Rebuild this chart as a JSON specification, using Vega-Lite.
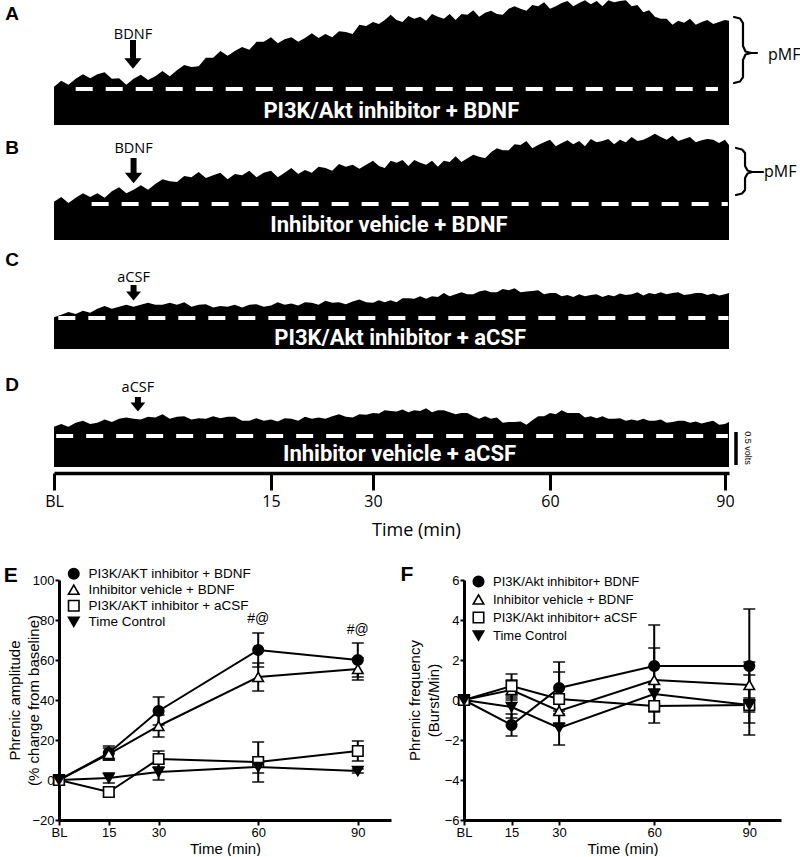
{
"$schema":"https://vega.github.io/schema/vega-lite/v6.json",
"padding":{"left":3,"top":0,"right":0,"bottom":0},
"background":"white",
"bounds":"flush",
"spacing":0,
"config":{"view":{"stroke":null},"axis":{"grid":false}},
"datasets":{
"trace":[
{"t":0,"A":0.58,"B":0.58,"C":0.48,"D":0.61},{"t":0.5,"A":0.67,"B":0.65,"C":0.52,"D":0.65},{"t":1,"A":0.61,"B":0.56,"C":0.56,"D":0.61},{"t":1.5,"A":0.70,"B":0.64,"C":0.53,"D":0.67},{"t":2,"A":0.77,"B":0.71,"C":0.58,"D":0.70},{"t":2.5,"A":0.71,"B":0.65,"C":0.55,"D":0.65},{"t":3,"A":0.77,"B":0.71,"C":0.61,"D":0.67},{"t":3.5,"A":0.80,"B":0.64,"C":0.65,"D":0.72},{"t":4,"A":0.70,"B":0.74,"C":0.61,"D":0.68},{"t":4.5,"A":0.71,"B":0.80,"C":0.64,"D":0.73},
{"t":5,"A":0.61,"B":0.71,"C":0.67,"D":0.75},{"t":5.5,"A":0.70,"B":0.76,"C":0.64,"D":0.73},{"t":6,"A":0.76,"B":0.83,"C":0.67,"D":0.72},{"t":6.5,"A":0.68,"B":0.76,"C":0.70,"D":0.76},{"t":7,"A":0.74,"B":0.85,"C":0.67,"D":0.75},{"t":7.5,"A":0.82,"B":0.92,"C":0.67,"D":0.80},{"t":8,"A":0.74,"B":0.89,"C":0.70,"D":0.73},{"t":8.5,"A":0.83,"B":0.88,"C":0.67,"D":0.76},{"t":9,"A":0.91,"B":0.97,"C":0.71,"D":0.77},{"t":9.5,"A":0.88,"B":0.95,"C":0.64,"D":0.72},
{"t":10,"A":0.89,"B":1.03,"C":0.67,"D":0.74},{"t":10.5,"A":1.02,"B":0.94,"C":0.68,"D":0.73},{"t":11,"A":1.02,"B":0.98,"C":0.63,"D":0.77},{"t":11.5,"A":1.12,"B":1.02,"C":0.65,"D":0.74},{"t":12,"A":1.05,"B":0.92,"C":0.64,"D":0.76},{"t":12.5,"A":1.12,"B":1.00,"C":0.67,"D":0.76},{"t":13,"A":1.18,"B":0.98,"C":0.63,"D":0.70},{"t":13.5,"A":1.14,"B":1.05,"C":0.67,"D":0.70},{"t":14,"A":1.26,"B":0.95,"C":0.68,"D":0.74},{"t":14.5,"A":1.26,"B":1.02,"C":0.64,"D":0.70},
{"t":15,"A":1.33,"B":1.05,"C":0.66,"D":0.72},{"t":16,"A":1.24,"B":0.95,"C":0.71,"D":0.69},{"t":17,"A":1.30,"B":1.02,"C":0.67,"D":0.74},{"t":18,"A":1.33,"B":1.09,"C":0.69,"D":0.73},{"t":19,"A":1.26,"B":1.00,"C":0.66,"D":0.70},{"t":20,"A":1.32,"B":1.06,"C":0.71,"D":0.76},{"t":21,"A":1.39,"B":1.02,"C":0.70,"D":0.73},{"t":22,"A":1.32,"B":1.11,"C":0.67,"D":0.75},{"t":23,"A":1.38,"B":1.09,"C":0.73,"D":0.73},{"t":24,"A":1.33,"B":1.05,"C":0.70,"D":0.77},
{"t":25,"A":1.42,"B":1.15,"C":0.71,"D":0.80},{"t":26,"A":1.41,"B":1.11,"C":0.68,"D":0.76},{"t":27,"A":1.38,"B":1.14,"C":0.72,"D":0.75},{"t":28,"A":1.52,"B":1.08,"C":0.75,"D":0.80},{"t":29,"A":1.50,"B":1.14,"C":0.71,"D":0.79},{"t":30,"A":1.56,"B":1.20,"C":0.70,"D":0.82},{"t":31,"A":1.53,"B":1.12,"C":0.74,"D":0.81},{"t":32,"A":1.59,"B":1.09,"C":0.71,"D":0.86},{"t":33,"A":1.67,"B":1.20,"C":0.74,"D":0.85},{"t":34,"A":1.59,"B":1.17,"C":0.71,"D":0.84},
{"t":35,"A":1.56,"B":1.21,"C":0.77,"D":0.87},{"t":36,"A":1.65,"B":1.12,"C":0.77,"D":0.83},{"t":37,"A":1.61,"B":1.21,"C":0.76,"D":0.86},{"t":38,"A":1.64,"B":1.17,"C":0.80,"D":0.85},{"t":39,"A":1.58,"B":1.14,"C":0.76,"D":0.89},{"t":40,"A":1.68,"B":1.20,"C":0.80,"D":0.83},{"t":41,"A":1.64,"B":1.11,"C":0.79,"D":0.86},{"t":42,"A":1.61,"B":1.20,"C":0.85,"D":0.86},{"t":43,"A":1.68,"B":1.18,"C":0.80,"D":0.83},{"t":44,"A":1.59,"B":1.27,"C":0.83,"D":0.80},
{"t":45,"A":1.68,"B":1.18,"C":0.86,"D":0.82},{"t":46,"A":1.67,"B":1.24,"C":0.83,"D":0.82},{"t":47,"A":1.74,"B":1.29,"C":0.83,"D":0.77},{"t":48,"A":1.64,"B":1.26,"C":0.87,"D":0.73},{"t":49,"A":1.70,"B":1.24,"C":0.89,"D":0.77},{"t":50,"A":1.73,"B":1.33,"C":0.86,"D":0.73},{"t":51,"A":1.68,"B":1.39,"C":0.86,"D":0.75},{"t":52,"A":1.67,"B":1.36,"C":0.91,"D":0.67},{"t":53,"A":1.76,"B":1.36,"C":0.89,"D":0.68},{"t":54,"A":1.80,"B":1.45,"C":0.92,"D":0.68},
{"t":55,"A":1.76,"B":1.44,"C":0.86,"D":0.69},{"t":56,"A":1.73,"B":1.50,"C":0.87,"D":0.64},{"t":57,"A":1.82,"B":1.39,"C":0.88,"D":0.71},{"t":58,"A":1.80,"B":1.44,"C":0.89,"D":0.77},{"t":59,"A":1.86,"B":1.48,"C":0.83,"D":0.77},{"t":60,"A":1.76,"B":1.52,"C":0.85,"D":0.82},{"t":61,"A":1.80,"B":1.42,"C":0.85,"D":0.80},{"t":62,"A":1.85,"B":1.47,"C":0.80,"D":0.86},{"t":63,"A":1.88,"B":1.51,"C":0.82,"D":0.82},{"t":64,"A":1.80,"B":1.45,"C":0.79,"D":0.82},
{"t":65,"A":1.85,"B":1.50,"C":0.83,"D":0.82},{"t":66,"A":1.89,"B":1.42,"C":0.80,"D":0.75},{"t":67,"A":1.83,"B":1.53,"C":0.82,"D":0.77},{"t":68,"A":1.88,"B":1.48,"C":0.83,"D":0.74},{"t":69,"A":1.80,"B":1.50,"C":0.79,"D":0.77},{"t":70,"A":1.89,"B":1.53,"C":0.82,"D":0.73},{"t":71,"A":1.86,"B":1.45,"C":0.80,"D":0.73},{"t":72,"A":1.88,"B":1.52,"C":0.84,"D":0.74},{"t":73,"A":1.89,"B":1.48,"C":0.82,"D":0.70},{"t":74,"A":1.80,"B":1.56,"C":0.83,"D":0.72},
{"t":75,"A":1.82,"B":1.50,"C":0.86,"D":0.70},{"t":76,"A":1.71,"B":1.52,"C":0.81,"D":0.73},{"t":77,"A":1.74,"B":1.56,"C":0.85,"D":0.70},{"t":78,"A":1.64,"B":1.61,"C":0.83,"D":0.70},{"t":79,"A":1.61,"B":1.56,"C":0.86,"D":0.72},{"t":80,"A":1.61,"B":1.52,"C":0.83,"D":0.67},{"t":81,"A":1.52,"B":1.58,"C":0.85,"D":0.68},{"t":82,"A":1.58,"B":1.50,"C":0.86,"D":0.70},{"t":83,"A":1.55,"B":1.53,"C":0.82,"D":0.70},{"t":84,"A":1.61,"B":1.56,"C":0.83,"D":0.67},
{"t":85,"A":1.52,"B":1.48,"C":0.85,"D":0.69},{"t":86,"A":1.56,"B":1.51,"C":0.85,"D":0.66},{"t":87,"A":1.59,"B":1.53,"C":0.82,"D":0.68},{"t":88,"A":1.53,"B":1.52,"C":0.84,"D":0.70},{"t":89,"A":1.56,"B":1.47,"C":0.81,"D":0.64},{"t":90,"A":1.59,"B":1.52,"C":0.83,"D":0.65},{"t":90.7,"A":1.58,"B":1.44,"C":0.85,"D":0.68}
],
"pan":[
{"p":"A","base":0.545,"d0":1.5,"d1":88.8,"label":"PI3K/Akt inhibitor + BDNF","lt":33.1,"lv":0.215,"drug":"BDNF","at":5.46,"atop":1.288,"ahead":0.932,"dv":1.303,"letter":"A","xl":-2.9,"Lv":1.689,"pt":97.4,"pv":1.061,"plab":"pMF"},
{"p":"B","base":0.545,"d0":2.6,"d1":90.5,"label":"Inhibitor vehicle + BDNF","lt":32.7,"lv":0.23,"drug":"BDNF","at":5.5,"atop":1.242,"ahead":0.939,"dv":1.318,"letter":"B","xl":-2.9,"Lv":1.394,"pt":96.7,"pv":1.03,"plab":"pMF"},
{"p":"C","base":0.47,"d0":0.3,"d1":90.6,"label":"PI3K/Akt inhibitor + aCSF","lt":34.6,"lv":0.17,"drug":"aCSF","at":5.5,"atop":0.97,"ahead":0.803,"dv":1.015,"letter":"C","xl":-2.9,"Lv":1.348},
{"p":"D","base":0.47,"d0":0.15,"d1":90.5,"label":"Inhibitor vehicle + aCSF","lt":34.5,"lv":0.19,"drug":"aCSF","at":5.8,"atop":1.061,"ahead":0.909,"dv":1.136,"letter":"D","xl":-2.9,"Lv":1.242,"sbx":91.9,"sb0":0.03,"sb1":0.53,"sbt":94.0,"sbv":0.288,"sblab":"0.5 volts"}
],
"brace":[
{"p":"A","o":1,"bx":91.56,"by":1.636},{"p":"A","o":2,"bx":92.59,"by":1.614},{"p":"A","o":3,"bx":93.1,"by":1.545},{"p":"A","o":4,"bx":93.1,"by":1.197},{"p":"A","o":5,"bx":93.53,"by":1.114},{"p":"A","o":6,"bx":94.48,"by":1.091},{"p":"A","o":7,"bx":95.51,"by":1.091},{"p":"A","o":8,"bx":94.48,"by":1.091},{"p":"A","o":9,"bx":93.53,"by":1.068},{"p":"A","o":10,"bx":93.1,"by":0.985},{"p":"A","o":11,"bx":93.1,"by":0.727},{"p":"A","o":12,"bx":92.59,"by":0.659},{"p":"A","o":13,"bx":91.56,"by":0.636},
{"p":"B","o":1,"bx":91.9,"by":1.394},{"p":"B","o":2,"bx":92.93,"by":1.371},{"p":"B","o":3,"bx":93.45,"by":1.318},{"p":"B","o":4,"bx":93.45,"by":1.121},{"p":"B","o":5,"bx":93.88,"by":1.053},{"p":"B","o":6,"bx":94.65,"by":1.03},{"p":"B","o":7,"bx":96.54,"by":1.03},{"p":"B","o":8,"bx":94.65,"by":1.03},{"p":"B","o":9,"bx":93.88,"by":1.008},{"p":"B","o":10,"bx":93.45,"by":0.939},{"p":"B","o":11,"bx":93.45,"by":0.758},{"p":"B","o":12,"bx":92.93,"by":0.705},{"p":"B","o":13,"bx":91.9,"by":0.682}
],
"amp":[
{"s":"PI3K/AKT inhibitor + BDNF","time":0,"m":0,"lo":0,"hi":0},{"s":"PI3K/AKT inhibitor + BDNF","time":15,"m":13.5,"lo":10,"hi":17},{"s":"PI3K/AKT inhibitor + BDNF","time":30,"m":34.5,"lo":27.5,"hi":41.5},{"s":"PI3K/AKT inhibitor + BDNF","time":60,"m":65,"lo":56.5,"hi":73.5},{"s":"PI3K/AKT inhibitor + BDNF","time":90,"m":60,"lo":51.5,"hi":68.5},
{"s":"Inhibitor vehicle + BDNF","time":0,"m":0,"lo":0,"hi":0},{"s":"Inhibitor vehicle + BDNF","time":15,"m":13,"lo":10,"hi":16},{"s":"Inhibitor vehicle + BDNF","time":30,"m":27,"lo":21.5,"hi":32.5},{"s":"Inhibitor vehicle + BDNF","time":60,"m":51.5,"lo":44.5,"hi":58.5},{"s":"Inhibitor vehicle + BDNF","time":90,"m":55.5,"lo":50,"hi":61},
{"s":"PI3K/AKT inhibitor + aCSF","time":0,"m":0,"lo":0,"hi":0},{"s":"PI3K/AKT inhibitor + aCSF","time":15,"m":-6,"lo":-8,"hi":-4},{"s":"PI3K/AKT inhibitor + aCSF","time":30,"m":10.5,"lo":6.5,"hi":14.5},{"s":"PI3K/AKT inhibitor + aCSF","time":60,"m":9,"lo":-1,"hi":19},{"s":"PI3K/AKT inhibitor + aCSF","time":90,"m":14.5,"lo":9.5,"hi":19.5},
{"s":"Time Control","time":0,"m":0,"lo":0,"hi":0},{"s":"Time Control","time":15,"m":1,"lo":-1.5,"hi":3.5},{"s":"Time Control","time":30,"m":4,"lo":0,"hi":8},{"s":"Time Control","time":60,"m":6.5,"lo":3.5,"hi":9.5},{"s":"Time Control","time":90,"m":4.5,"lo":3.5,"hi":5.5}
],
"freq":[
{"s":"PI3K/Akt inhibitor+ BDNF","time":0,"m":0,"lo":0,"hi":0},{"s":"PI3K/Akt inhibitor+ BDNF","time":15,"m":-1.25,"lo":-1.8,"hi":-0.7},{"s":"PI3K/Akt inhibitor+ BDNF","time":30,"m":0.6,"lo":-0.7,"hi":1.9},{"s":"PI3K/Akt inhibitor+ BDNF","time":60,"m":1.7,"lo":-0.35,"hi":3.75},{"s":"PI3K/Akt inhibitor+ BDNF","time":90,"m":1.7,"lo":-1.15,"hi":4.55},
{"s":"Inhibitor vehicle + BDNF","time":0,"m":0,"lo":0,"hi":0},{"s":"Inhibitor vehicle + BDNF","time":15,"m":0.5,"lo":0,"hi":1},{"s":"Inhibitor vehicle + BDNF","time":30,"m":-0.55,"lo":-1.15,"hi":0.05},{"s":"Inhibitor vehicle + BDNF","time":60,"m":1.0,"lo":-0.6,"hi":2.6},{"s":"Inhibitor vehicle + BDNF","time":90,"m":0.75,"lo":-0.4,"hi":1.9},
{"s":"PI3K/Akt inhibitor+ aCSF","time":0,"m":0,"lo":0,"hi":0},{"s":"PI3K/Akt inhibitor+ aCSF","time":15,"m":0.7,"lo":0.1,"hi":1.3},{"s":"PI3K/Akt inhibitor+ aCSF","time":30,"m":0.05,"lo":-1.3,"hi":1.4},{"s":"PI3K/Akt inhibitor+ aCSF","time":60,"m":-0.3,"lo":-1.15,"hi":0.55},{"s":"PI3K/Akt inhibitor+ aCSF","time":90,"m":-0.25,"lo":-1.75,"hi":1.25},
{"s":"Time Control","time":0,"m":0,"lo":0,"hi":0},{"s":"Time Control","time":15,"m":-0.35,"lo":-0.9,"hi":0.2},{"s":"Time Control","time":30,"m":-1.4,"lo":-2.25,"hi":-0.55},{"s":"Time Control","time":60,"m":0.3,"lo":-0.2,"hi":0.8},{"s":"Time Control","time":90,"m":-0.25,"lo":-0.6,"hi":0.1}
]
},
"vconcat":[
{"width":670,"height":125,"layer":[
{"data":{"name":"trace"},"mark":{"type":"area","color":"black"},"encoding":{"x":{"field":"t","type":"quantitative","scale":{"domain":[0,15,30,60,90.7],"range":[-5,212,314,491,670],"nice":false,"zero":false},"axis":null},"y":{"field":"A","type":"quantitative","scale":{"domain":[0,1.894],"nice":false,"zero":false},"axis":null},"y2":{"datum":0}}},
{"data":{"name":"pan"},"transform":[{"filter":"datum.p === 'A'"}],"mark":{"type":"rule","color":"white","strokeWidth":4,"strokeDash":[17,13]},"encoding":{"x":{"field":"d0","type":"quantitative","scale":{"domain":[0,15,30,60,90.7],"range":[-5,212,314,491,670],"nice":false,"zero":false},"axis":null},"x2":{"field":"d1"},"y":{"field":"base","type":"quantitative","scale":{"domain":[0,1.894],"nice":false,"zero":false},"axis":null}}},
{"data":{"name":"pan"},"transform":[{"filter":"datum.p === 'A'"}],"mark":{"type":"text","color":"white","font":"Roboto","fontWeight":"bold","fontSize":22,"baseline":"middle"},"encoding":{"x":{"field":"lt","type":"quantitative","scale":{"domain":[0,15,30,60,90.7],"range":[-5,212,314,491,670],"nice":false,"zero":false},"axis":null},"y":{"field":"lv","type":"quantitative","scale":{"domain":[0,1.894],"nice":false,"zero":false},"axis":null},"text":{"field":"label"}}},
{"data":{"name":"pan"},"transform":[{"filter":"datum.p === 'A'"}],"mark":{"type":"rule","color":"black","strokeWidth":6},"encoding":{"x":{"field":"at","type":"quantitative","scale":{"domain":[0,15,30,60,90.7],"range":[-5,212,314,491,670],"nice":false,"zero":false},"axis":null},"y":{"field":"atop","type":"quantitative","scale":{"domain":[0,1.894],"nice":false,"zero":false},"axis":null},"y2":{"field":"ahead"}}},
{"data":{"name":"pan"},"transform":[{"filter":"datum.p === 'A'"}],"mark":{"type":"point","shape":"M-1,-0.6L1,-0.6L0,0.6Z","size":300,"filled":true,"color":"black","opacity":1},"encoding":{"x":{"field":"at","type":"quantitative","scale":{"domain":[0,15,30,60,90.7],"range":[-5,212,314,491,670],"nice":false,"zero":false},"axis":null},"y":{"field":"ahead","type":"quantitative","scale":{"domain":[0,1.894],"nice":false,"zero":false},"axis":null}}},
{"data":{"name":"pan"},"transform":[{"filter":"datum.p === 'A'"}],"mark":{"type":"text","color":"black","font":"Open Sans","fontSize":14.5,"baseline":"alphabetic"},"encoding":{"x":{"field":"at","type":"quantitative","scale":{"domain":[0,15,30,60,90.7],"range":[-5,212,314,491,670],"nice":false,"zero":false},"axis":null},"y":{"field":"dv","type":"quantitative","scale":{"domain":[0,1.894],"nice":false,"zero":false},"axis":null},"text":{"field":"drug"}}},
{"data":{"name":"pan"},"transform":[{"filter":"datum.p === 'A'"}],"mark":{"type":"text","color":"black","font":"Liberation Sans","fontWeight":"bold","fontSize":19,"baseline":"middle"},"encoding":{"x":{"field":"xl","type":"quantitative","scale":{"domain":[0,15,30,60,90.7],"range":[-5,212,314,491,670],"nice":false,"zero":false},"axis":null},"y":{"field":"Lv","type":"quantitative","scale":{"domain":[0,1.894],"nice":false,"zero":false},"axis":null},"text":{"field":"letter"}}},
{"data":{"name":"brace"},"transform":[{"filter":"datum.p === 'A'"}],"mark":{"type":"line","color":"black","strokeWidth":2.2,"strokeJoin":"round","strokeCap":"round"},"encoding":{"x":{"field":"bx","type":"quantitative","scale":{"domain":[0,15,30,60,90.7],"range":[-5,212,314,491,670],"nice":false,"zero":false},"axis":null},"y":{"field":"by","type":"quantitative","scale":{"domain":[0,1.894],"nice":false,"zero":false},"axis":null},"order":{"field":"o","type":"quantitative"}}},
{"data":{"name":"pan"},"transform":[{"filter":"datum.p === 'A'"}],"mark":{"type":"text","color":"black","font":"Open Sans","fontSize":16,"baseline":"middle","align":"left"},"encoding":{"x":{"field":"pt","type":"quantitative","scale":{"domain":[0,15,30,60,90.7],"range":[-5,212,314,491,670],"nice":false,"zero":false},"axis":null},"y":{"field":"pv","type":"quantitative","scale":{"domain":[0,1.894],"nice":false,"zero":false},"axis":null},"text":{"field":"plab"}}}
]},
{"width":670,"height":115,"layer":[
{"data":{"name":"trace"},"mark":{"type":"area","color":"black"},"encoding":{"x":{"field":"t","type":"quantitative","scale":{"domain":[0,15,30,60,90.7],"range":[-5,212,314,491,670],"nice":false,"zero":false},"axis":null},"y":{"field":"B","type":"quantitative","scale":{"domain":[0,1.742],"nice":false,"zero":false},"axis":null},"y2":{"datum":0}}},
{"data":{"name":"pan"},"transform":[{"filter":"datum.p === 'B'"}],"mark":{"type":"rule","color":"white","strokeWidth":4,"strokeDash":[17,13]},"encoding":{"x":{"field":"d0","type":"quantitative","scale":{"domain":[0,15,30,60,90.7],"range":[-5,212,314,491,670],"nice":false,"zero":false},"axis":null},"x2":{"field":"d1"},"y":{"field":"base","type":"quantitative","scale":{"domain":[0,1.742],"nice":false,"zero":false},"axis":null}}},
{"data":{"name":"pan"},"transform":[{"filter":"datum.p === 'B'"}],"mark":{"type":"text","color":"white","font":"Roboto","fontWeight":"bold","fontSize":22,"baseline":"middle"},"encoding":{"x":{"field":"lt","type":"quantitative","scale":{"domain":[0,15,30,60,90.7],"range":[-5,212,314,491,670],"nice":false,"zero":false},"axis":null},"y":{"field":"lv","type":"quantitative","scale":{"domain":[0,1.742],"nice":false,"zero":false},"axis":null},"text":{"field":"label"}}},
{"data":{"name":"pan"},"transform":[{"filter":"datum.p === 'B'"}],"mark":{"type":"rule","color":"black","strokeWidth":6},"encoding":{"x":{"field":"at","type":"quantitative","scale":{"domain":[0,15,30,60,90.7],"range":[-5,212,314,491,670],"nice":false,"zero":false},"axis":null},"y":{"field":"atop","type":"quantitative","scale":{"domain":[0,1.742],"nice":false,"zero":false},"axis":null},"y2":{"field":"ahead"}}},
{"data":{"name":"pan"},"transform":[{"filter":"datum.p === 'B'"}],"mark":{"type":"point","shape":"M-1,-0.6L1,-0.6L0,0.6Z","size":300,"filled":true,"color":"black","opacity":1},"encoding":{"x":{"field":"at","type":"quantitative","scale":{"domain":[0,15,30,60,90.7],"range":[-5,212,314,491,670],"nice":false,"zero":false},"axis":null},"y":{"field":"ahead","type":"quantitative","scale":{"domain":[0,1.742],"nice":false,"zero":false},"axis":null}}},
{"data":{"name":"pan"},"transform":[{"filter":"datum.p === 'B'"}],"mark":{"type":"text","color":"black","font":"Open Sans","fontSize":14.5,"baseline":"alphabetic"},"encoding":{"x":{"field":"at","type":"quantitative","scale":{"domain":[0,15,30,60,90.7],"range":[-5,212,314,491,670],"nice":false,"zero":false},"axis":null},"y":{"field":"dv","type":"quantitative","scale":{"domain":[0,1.742],"nice":false,"zero":false},"axis":null},"text":{"field":"drug"}}},
{"data":{"name":"pan"},"transform":[{"filter":"datum.p === 'B'"}],"mark":{"type":"text","color":"black","font":"Liberation Sans","fontWeight":"bold","fontSize":19,"baseline":"middle"},"encoding":{"x":{"field":"xl","type":"quantitative","scale":{"domain":[0,15,30,60,90.7],"range":[-5,212,314,491,670],"nice":false,"zero":false},"axis":null},"y":{"field":"Lv","type":"quantitative","scale":{"domain":[0,1.742],"nice":false,"zero":false},"axis":null},"text":{"field":"letter"}}},
{"data":{"name":"brace"},"transform":[{"filter":"datum.p === 'B'"}],"mark":{"type":"line","color":"black","strokeWidth":2.2,"strokeJoin":"round","strokeCap":"round"},"encoding":{"x":{"field":"bx","type":"quantitative","scale":{"domain":[0,15,30,60,90.7],"range":[-5,212,314,491,670],"nice":false,"zero":false},"axis":null},"y":{"field":"by","type":"quantitative","scale":{"domain":[0,1.742],"nice":false,"zero":false},"axis":null},"order":{"field":"o","type":"quantitative"}}},
{"data":{"name":"pan"},"transform":[{"filter":"datum.p === 'B'"}],"mark":{"type":"text","color":"black","font":"Open Sans","fontSize":16,"baseline":"middle","align":"left"},"encoding":{"x":{"field":"pt","type":"quantitative","scale":{"domain":[0,15,30,60,90.7],"range":[-5,212,314,491,670],"nice":false,"zero":false},"axis":null},"y":{"field":"pv","type":"quantitative","scale":{"domain":[0,1.742],"nice":false,"zero":false},"axis":null},"text":{"field":"plab"}}}
]},
{"width":670,"height":109,"layer":[
{"data":{"name":"trace"},"mark":{"type":"area","color":"black"},"encoding":{"x":{"field":"t","type":"quantitative","scale":{"domain":[0,15,30,60,90.7],"range":[-5,212,314,491,670],"nice":false,"zero":false},"axis":null},"y":{"field":"C","type":"quantitative","scale":{"domain":[0,1.652],"nice":false,"zero":false},"axis":null},"y2":{"datum":0}}},
{"data":{"name":"pan"},"transform":[{"filter":"datum.p === 'C'"}],"mark":{"type":"rule","color":"white","strokeWidth":4,"strokeDash":[17,13]},"encoding":{"x":{"field":"d0","type":"quantitative","scale":{"domain":[0,15,30,60,90.7],"range":[-5,212,314,491,670],"nice":false,"zero":false},"axis":null},"x2":{"field":"d1"},"y":{"field":"base","type":"quantitative","scale":{"domain":[0,1.652],"nice":false,"zero":false},"axis":null}}},
{"data":{"name":"pan"},"transform":[{"filter":"datum.p === 'C'"}],"mark":{"type":"text","color":"white","font":"Roboto","fontWeight":"bold","fontSize":22,"baseline":"middle"},"encoding":{"x":{"field":"lt","type":"quantitative","scale":{"domain":[0,15,30,60,90.7],"range":[-5,212,314,491,670],"nice":false,"zero":false},"axis":null},"y":{"field":"lv","type":"quantitative","scale":{"domain":[0,1.652],"nice":false,"zero":false},"axis":null},"text":{"field":"label"}}},
{"data":{"name":"pan"},"transform":[{"filter":"datum.p === 'C'"}],"mark":{"type":"rule","color":"black","strokeWidth":6},"encoding":{"x":{"field":"at","type":"quantitative","scale":{"domain":[0,15,30,60,90.7],"range":[-5,212,314,491,670],"nice":false,"zero":false},"axis":null},"y":{"field":"atop","type":"quantitative","scale":{"domain":[0,1.652],"nice":false,"zero":false},"axis":null},"y2":{"field":"ahead"}}},
{"data":{"name":"pan"},"transform":[{"filter":"datum.p === 'C'"}],"mark":{"type":"point","shape":"M-1,-0.6L1,-0.6L0,0.6Z","size":220,"filled":true,"color":"black","opacity":1},"encoding":{"x":{"field":"at","type":"quantitative","scale":{"domain":[0,15,30,60,90.7],"range":[-5,212,314,491,670],"nice":false,"zero":false},"axis":null},"y":{"field":"ahead","type":"quantitative","scale":{"domain":[0,1.652],"nice":false,"zero":false},"axis":null}}},
{"data":{"name":"pan"},"transform":[{"filter":"datum.p === 'C'"}],"mark":{"type":"text","color":"black","font":"Open Sans","fontSize":14.5,"baseline":"alphabetic"},"encoding":{"x":{"field":"at","type":"quantitative","scale":{"domain":[0,15,30,60,90.7],"range":[-5,212,314,491,670],"nice":false,"zero":false},"axis":null},"y":{"field":"dv","type":"quantitative","scale":{"domain":[0,1.652],"nice":false,"zero":false},"axis":null},"text":{"field":"drug"}}},
{"data":{"name":"pan"},"transform":[{"filter":"datum.p === 'C'"}],"mark":{"type":"text","color":"black","font":"Liberation Sans","fontWeight":"bold","fontSize":19,"baseline":"middle"},"encoding":{"x":{"field":"xl","type":"quantitative","scale":{"domain":[0,15,30,60,90.7],"range":[-5,212,314,491,670],"nice":false,"zero":false},"axis":null},"y":{"field":"Lv","type":"quantitative","scale":{"domain":[0,1.652],"nice":false,"zero":false},"axis":null},"text":{"field":"letter"}}}
]},
{"width":670,"height":124,"layer":[
{"data":{"name":"trace"},"mark":{"type":"area","color":"black"},"encoding":{"x":{"field":"t","type":"quantitative","scale":{"domain":[0,15,30,60,90.7],"range":[-5,212,314,491,670],"nice":false,"zero":false},"axis":{"values":[0,15,30,60,90],"labelExpr":"datum.value === 0 ? 'BL' : datum.label","domainColor":"black","domainWidth":3.5,"tickColor":"black","tickWidth":3,"tickSize":17,"labelFont":"Open Sans","labelFontSize":16,"labelColor":"black","labelPadding":3,"labelFlush":false,"labelOverlap":false,"title":"Time (min)","titleFont":"Open Sans","titleFontSize":18,"titleFontWeight":"normal","titleColor":"black","titleX":357,"titleY":62,"titleBaseline":"alphabetic","titleAlign":"center"}},"y":{"field":"D","type":"quantitative","scale":{"domain":[-0.0909,1.788],"nice":false,"zero":false},"axis":null},"y2":{"datum":0}}},
{"data":{"name":"pan"},"transform":[{"filter":"datum.p === 'D'"}],"mark":{"type":"rule","color":"white","strokeWidth":4,"strokeDash":[17,13]},"encoding":{"x":{"field":"d0","type":"quantitative","scale":{"domain":[0,15,30,60,90.7],"range":[-5,212,314,491,670],"nice":false,"zero":false}},"x2":{"field":"d1"},"y":{"field":"base","type":"quantitative","scale":{"domain":[-0.0909,1.788],"nice":false,"zero":false},"axis":null}}},
{"data":{"name":"pan"},"transform":[{"filter":"datum.p === 'D'"}],"mark":{"type":"text","color":"white","font":"Roboto","fontWeight":"bold","fontSize":22,"baseline":"middle"},"encoding":{"x":{"field":"lt","type":"quantitative","scale":{"domain":[0,15,30,60,90.7],"range":[-5,212,314,491,670],"nice":false,"zero":false}},"y":{"field":"lv","type":"quantitative","scale":{"domain":[-0.0909,1.788],"nice":false,"zero":false},"axis":null},"text":{"field":"label"}}},
{"data":{"name":"pan"},"transform":[{"filter":"datum.p === 'D'"}],"mark":{"type":"rule","color":"black","strokeWidth":6},"encoding":{"x":{"field":"at","type":"quantitative","scale":{"domain":[0,15,30,60,90.7],"range":[-5,212,314,491,670],"nice":false,"zero":false}},"y":{"field":"atop","type":"quantitative","scale":{"domain":[-0.0909,1.788],"nice":false,"zero":false},"axis":null},"y2":{"field":"ahead"}}},
{"data":{"name":"pan"},"transform":[{"filter":"datum.p === 'D'"}],"mark":{"type":"point","shape":"M-1,-0.6L1,-0.6L0,0.6Z","size":220,"filled":true,"color":"black","opacity":1},"encoding":{"x":{"field":"at","type":"quantitative","scale":{"domain":[0,15,30,60,90.7],"range":[-5,212,314,491,670],"nice":false,"zero":false}},"y":{"field":"ahead","type":"quantitative","scale":{"domain":[-0.0909,1.788],"nice":false,"zero":false},"axis":null}}},
{"data":{"name":"pan"},"transform":[{"filter":"datum.p === 'D'"}],"mark":{"type":"text","color":"black","font":"Open Sans","fontSize":14.5,"baseline":"alphabetic"},"encoding":{"x":{"field":"at","type":"quantitative","scale":{"domain":[0,15,30,60,90.7],"range":[-5,212,314,491,670],"nice":false,"zero":false}},"y":{"field":"dv","type":"quantitative","scale":{"domain":[-0.0909,1.788],"nice":false,"zero":false},"axis":null},"text":{"field":"drug"}}},
{"data":{"name":"pan"},"transform":[{"filter":"datum.p === 'D'"}],"mark":{"type":"text","color":"black","font":"Liberation Sans","fontWeight":"bold","fontSize":19,"baseline":"middle"},"encoding":{"x":{"field":"xl","type":"quantitative","scale":{"domain":[0,15,30,60,90.7],"range":[-5,212,314,491,670],"nice":false,"zero":false}},"y":{"field":"Lv","type":"quantitative","scale":{"domain":[-0.0909,1.788],"nice":false,"zero":false},"axis":null},"text":{"field":"letter"}}},
{"data":{"name":"pan"},"transform":[{"filter":"datum.p === 'D'"}],"mark":{"type":"rule","color":"black","strokeWidth":3.5},"encoding":{"x":{"field":"sbx","type":"quantitative","scale":{"domain":[0,15,30,60,90.7],"range":[-5,212,314,491,670],"nice":false,"zero":false}},"y":{"field":"sb0","type":"quantitative","scale":{"domain":[-0.0909,1.788],"nice":false,"zero":false},"axis":null},"y2":{"field":"sb1"}}},
{"data":{"name":"pan"},"transform":[{"filter":"datum.p === 'D'"}],"mark":{"type":"text","color":"black","font":"Liberation Sans","fontSize":9,"angle":90,"baseline":"middle","align":"center"},"encoding":{"x":{"field":"sbt","type":"quantitative","scale":{"domain":[0,15,30,60,90.7],"range":[-5,212,314,491,670],"nice":false,"zero":false}},"y":{"field":"sbv","type":"quantitative","scale":{"domain":[-0.0909,1.788],"nice":false,"zero":false},"axis":null},"text":{"field":"sblab"}}}
]},
{"hconcat":[
{"width":332,"height":347,"data":{"name":"amp"},"layer":[
{"mark":{"type":"line","color":"black","strokeWidth":2},"encoding":{"x":{"field":"time","type":"quantitative","scale":{"domain":[0,100],"nice":false,"zero":false},"axis":{"values":[0,15,30,60,90],"labelExpr":"datum.value === 0 ? 'BL' : datum.label","title":"Time (min)","titleFont":"Liberation Sans","titleFontSize":15,"titleFontWeight":"normal","titleColor":"black","titlePadding":2,"domainColor":"black","domainWidth":3,"tickColor":"black","tickSize":5,"tickWidth":2,"labelFont":"Liberation Sans","labelFontSize":13,"labelColor":"black","labelPadding":1,"labelFlush":false}},"y":{"field":"m","type":"quantitative","scale":{"domain":[-20,100],"range":[347,107],"nice":false,"zero":false},"axis":{"values":[-20,0,20,40,60,80,100],"title":["Phrenic amplitude","(% change from baseline)"],"titleFont":"Liberation Sans","titleFontSize":15,"titleFontWeight":"normal","titleColor":"black","titleLineHeight":19,"titleX":-37,"titleY":227,"titleBaseline":"bottom","titleAngle":270,"titleAlign":"center","domainColor":"black","domainWidth":3,"tickColor":"black","tickSize":4,"tickWidth":2,"labelFont":"Liberation Sans","labelFontSize":13,"labelColor":"black","labelPadding":1}},"detail":{"field":"s"}}},
{"transform":[{"filter":"datum.time > 0"}],"mark":{"type":"rule","color":"black","strokeWidth":2},"encoding":{"x":{"field":"time","type":"quantitative","scale":{"domain":[0,100],"nice":false,"zero":false}},"y":{"field":"lo","type":"quantitative","scale":{"domain":[-20,100],"range":[347,107],"nice":false,"zero":false}},"y2":{"field":"hi"}}},
{"transform":[{"filter":"datum.time > 0"}],"mark":{"type":"tick","orient":"horizontal","color":"black","size":12,"thickness":2},"encoding":{"x":{"field":"time","type":"quantitative","scale":{"domain":[0,100],"nice":false,"zero":false}},"y":{"field":"lo","type":"quantitative","scale":{"domain":[-20,100],"range":[347,107],"nice":false,"zero":false}}}},
{"transform":[{"filter":"datum.time > 0"}],"mark":{"type":"tick","orient":"horizontal","color":"black","size":12,"thickness":2},"encoding":{"x":{"field":"time","type":"quantitative","scale":{"domain":[0,100],"nice":false,"zero":false}},"y":{"field":"hi","type":"quantitative","scale":{"domain":[-20,100],"range":[347,107],"nice":false,"zero":false}}}},
{"mark":{"type":"point","filled":true,"strokeWidth":1.6,"size":110,"opacity":1},"encoding":{"x":{"field":"time","type":"quantitative","scale":{"domain":[0,100],"nice":false,"zero":false}},"y":{"field":"m","type":"quantitative","scale":{"domain":[-20,100],"range":[347,107],"nice":false,"zero":false}},
"shape":{"field":"s","type":"nominal","scale":{"domain":["PI3K/AKT inhibitor + BDNF","Inhibitor vehicle + BDNF","PI3K/AKT inhibitor + aCSF","Time Control"],"range":["circle","triangle-up","square","triangle-down"]},"legend":{"orient":"none","legendX":8,"legendY":94,"title":null,"labelFont":"Liberation Sans","labelFontSize":13.5,"labelColor":"black","labelLimit":300,"symbolStrokeWidth":1.6,"symbolSize":110,"symbolOpacity":1,"rowPadding":-1,"labelOffset":8,"padding":0}},
"fill":{"field":"s","type":"nominal","scale":{"domain":["PI3K/AKT inhibitor + BDNF","Inhibitor vehicle + BDNF","PI3K/AKT inhibitor + aCSF","Time Control"],"range":["black","white","white","black"]},"legend":{"orient":"none","legendX":8,"legendY":94,"title":null,"labelFont":"Liberation Sans","labelFontSize":13.5,"labelColor":"black","labelLimit":300,"symbolStrokeWidth":1.6,"symbolSize":110,"symbolOpacity":1,"rowPadding":-1,"labelOffset":8,"padding":0}},
"stroke":{"field":"s","type":"nominal","scale":{"domain":["PI3K/AKT inhibitor + BDNF","Inhibitor vehicle + BDNF","PI3K/AKT inhibitor + aCSF","Time Control"],"range":["black","black","black","black"]},"legend":{"orient":"none","legendX":8,"legendY":94,"title":null,"labelFont":"Liberation Sans","labelFontSize":13.5,"labelColor":"black","labelLimit":300,"symbolStrokeWidth":1.6,"symbolSize":110,"symbolOpacity":1,"rowPadding":-1,"labelOffset":8,"padding":0}}}},
{"data":{"values":[{"time":60,"m":80.5,"lab":"#@"},{"time":90,"m":75,"lab":"#@"}]},"mark":{"type":"text","color":"black","font":"Liberation Sans","fontSize":14,"baseline":"middle"},"encoding":{"x":{"field":"time","type":"quantitative","scale":{"domain":[0,100],"nice":false,"zero":false}},"y":{"field":"m","type":"quantitative","scale":{"domain":[-20,100],"range":[347,107],"nice":false,"zero":false}},"text":{"field":"lab"}}},
{"data":{"values":[{"time":-14.5,"m":102.25,"lab":"E"}]},"mark":{"type":"text","color":"black","font":"Liberation Sans","fontWeight":"bold","fontSize":21,"baseline":"middle"},"encoding":{"x":{"field":"time","type":"quantitative","scale":{"domain":[0,100],"nice":false,"zero":false}},"y":{"field":"m","type":"quantitative","scale":{"domain":[-20,100],"range":[347,107],"nice":false,"zero":false}},"text":{"field":"lab"}}}
]},
{"width":317,"height":347,"data":{"name":"freq"},"layer":[
{"mark":{"type":"line","color":"black","strokeWidth":2},"encoding":{"x":{"field":"time","type":"quantitative","scale":{"domain":[0,100],"nice":false,"zero":false},"axis":{"values":[0,15,30,60,90],"labelExpr":"datum.value === 0 ? 'BL' : datum.label","title":"Time (min)","titleFont":"Liberation Sans","titleFontSize":15,"titleFontWeight":"normal","titleColor":"black","titlePadding":2,"domainColor":"black","domainWidth":3,"tickColor":"black","tickSize":5,"tickWidth":2,"labelFont":"Liberation Sans","labelFontSize":13,"labelColor":"black","labelPadding":1,"labelFlush":false}},"y":{"field":"m","type":"quantitative","scale":{"domain":[-6,6],"range":[347,107],"nice":false,"zero":false},"axis":{"values":[-6,-4,-2,0,2,4,6],"title":["Phrenic frequency","(Burst/Min)"],"titleFont":"Liberation Sans","titleFontSize":15,"titleFontWeight":"normal","titleColor":"black","titleLineHeight":19,"titleX":-42,"titleY":227,"titleBaseline":"bottom","titleAngle":270,"titleAlign":"center","domainColor":"black","domainWidth":3,"tickColor":"black","tickSize":4,"tickWidth":2,"labelFont":"Liberation Sans","labelFontSize":13,"labelColor":"black","labelPadding":1}},"detail":{"field":"s"}}},
{"transform":[{"filter":"datum.time > 0"}],"mark":{"type":"rule","color":"black","strokeWidth":2},"encoding":{"x":{"field":"time","type":"quantitative","scale":{"domain":[0,100],"nice":false,"zero":false}},"y":{"field":"lo","type":"quantitative","scale":{"domain":[-6,6],"range":[347,107],"nice":false,"zero":false}},"y2":{"field":"hi"}}},
{"transform":[{"filter":"datum.time > 0"}],"mark":{"type":"tick","orient":"horizontal","color":"black","size":12,"thickness":2},"encoding":{"x":{"field":"time","type":"quantitative","scale":{"domain":[0,100],"nice":false,"zero":false}},"y":{"field":"lo","type":"quantitative","scale":{"domain":[-6,6],"range":[347,107],"nice":false,"zero":false}}}},
{"transform":[{"filter":"datum.time > 0"}],"mark":{"type":"tick","orient":"horizontal","color":"black","size":12,"thickness":2},"encoding":{"x":{"field":"time","type":"quantitative","scale":{"domain":[0,100],"nice":false,"zero":false}},"y":{"field":"hi","type":"quantitative","scale":{"domain":[-6,6],"range":[347,107],"nice":false,"zero":false}}}},
{"mark":{"type":"point","filled":true,"strokeWidth":1.6,"size":110,"opacity":1},"encoding":{"x":{"field":"time","type":"quantitative","scale":{"domain":[0,100],"nice":false,"zero":false}},"y":{"field":"m","type":"quantitative","scale":{"domain":[-6,6],"range":[347,107],"nice":false,"zero":false}},
"shape":{"field":"s","type":"nominal","scale":{"domain":["PI3K/Akt inhibitor+ BDNF","Inhibitor vehicle + BDNF","PI3K/Akt inhibitor+ aCSF","Time Control"],"range":["circle","triangle-up","square","triangle-down"]},"legend":{"orient":"none","legendX":8,"legendY":102,"title":null,"labelFont":"Liberation Sans","labelFontSize":13,"labelColor":"black","labelLimit":300,"symbolStrokeWidth":1.6,"symbolSize":110,"symbolOpacity":1,"rowPadding":1,"labelOffset":8,"padding":0}},
"fill":{"field":"s","type":"nominal","scale":{"domain":["PI3K/Akt inhibitor+ BDNF","Inhibitor vehicle + BDNF","PI3K/Akt inhibitor+ aCSF","Time Control"],"range":["black","white","white","black"]},"legend":{"orient":"none","legendX":8,"legendY":102,"title":null,"labelFont":"Liberation Sans","labelFontSize":13,"labelColor":"black","labelLimit":300,"symbolStrokeWidth":1.6,"symbolSize":110,"symbolOpacity":1,"rowPadding":1,"labelOffset":8,"padding":0}},
"stroke":{"field":"s","type":"nominal","scale":{"domain":["PI3K/Akt inhibitor+ BDNF","Inhibitor vehicle + BDNF","PI3K/Akt inhibitor+ aCSF","Time Control"],"range":["black","black","black","black"]},"legend":{"orient":"none","legendX":8,"legendY":102,"title":null,"labelFont":"Liberation Sans","labelFontSize":13,"labelColor":"black","labelLimit":300,"symbolStrokeWidth":1.6,"symbolSize":110,"symbolOpacity":1,"rowPadding":1,"labelOffset":8,"padding":0}}}},
{"data":{"values":[{"time":-18,"m":6.27,"lab":"F"}]},"mark":{"type":"text","color":"black","font":"Liberation Sans","fontWeight":"bold","fontSize":21,"baseline":"middle"},"encoding":{"x":{"field":"time","type":"quantitative","scale":{"domain":[0,100],"nice":false,"zero":false}},"y":{"field":"m","type":"quantitative","scale":{"domain":[-6,6],"range":[347,107],"nice":false,"zero":false}},"text":{"field":"lab"}}}
]}
],"spacing":73,"bounds":"flush","resolve":{"scale":{"shape":"independent","fill":"independent","stroke":"independent"}}}
]
}
